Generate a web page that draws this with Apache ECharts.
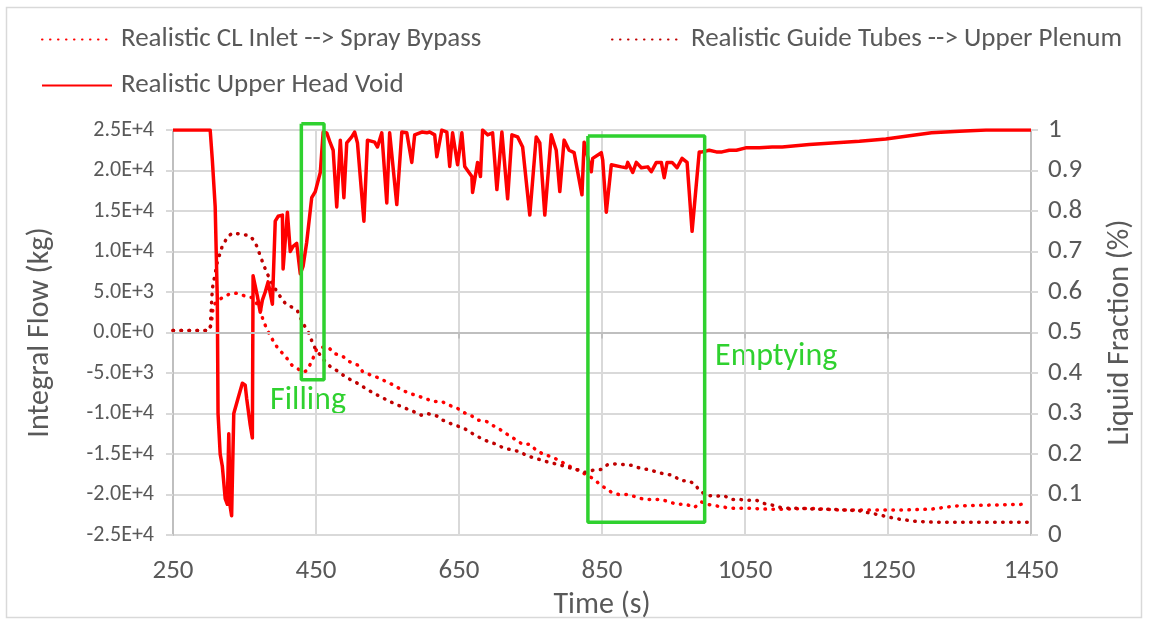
<!DOCTYPE html>
<html>
<head>
<meta charset="utf-8">
<script src="https://cdn.jsdelivr.net/npm/echarts@6/dist/echarts.min.js"></script>
<style>
  html, body { margin: 0; padding: 0; background: #ffffff; }
  #chart { width: 1149px; height: 625px; }
</style>
</head>
<body>
<div id="chart"></div>
<script>
// Series names
const nameBypass = 'Realistic CL Inlet --> Spray Bypass';
const nameGuide = 'Realistic Guide Tubes --> Upper Plenum';
const nameVoid = 'Realistic Upper Head Void';

// Integral flow, CL inlet to spray bypass: [time (s), kg]
const bypassFlow = [
  [250,250],[300,250],[302,500],[305,2000],[306,3300],[312,3900],[319,4300],[330,4800],[340,4850],
  [351,4500],[361,4300],[367,3600],[372,2900],[376,1500],[383,100],[390,-1000],[397,-2000],
  [407,-2900],[416,-4000],[425,-4500],[432,-4900],[437,-4700],[444,-3600],[451,-2000],[458,-1800],
  [467,-1800],[476,-2600],[487,-2900],[497,-3600],[508,-4000],[515,-4800],[528,-5300],[538,-5600],
  [549,-6100],[559,-6500],[570,-7100],[581,-7500],[591,-7800],[602,-8100],[613,-8500],[626,-8500],
  [634,-8900],[647,-9300],[655,-9800],[668,-10300],[676,-10800],[689,-11000],[698,-11500],
  [710,-12100],[718,-12600],[729,-13200],[739,-13800],[749,-13800],[759,-14600],[770,-15100],
  [779,-15300],[790,-15800],[800,-16300],[812,-16800],[823,-17300],[835,-17900],[844,-18500],
  [853,-19100],[863,-19700],[874,-20000],[887,-20000],[898,-20300],[909,-20600],[920,-20600],
  [933,-20600],[944,-20900],[955,-21200],[968,-21200],[979,-21600],[989,-20900],[997,-21200],
  [1010,-21400],[1024,-21600],[1035,-21700],[1059,-21700],[1081,-21800],[1105,-21800],[1140,-21700],
  [1182,-21900],[1226,-21900],[1272,-21900],[1310,-21800],[1345,-21400],[1391,-21300],[1440,-21200]
];

// Integral flow, guide tubes to upper plenum: [time (s), kg]
const guideFlow = [
  [250,250],[300,250],[302,500],[305,5400],[312,8700],[319,10700],[327,11900],[334,12300],[347,12100],
  [356,12000],[362,11500],[367,10700],[374,9000],[381,7400],[389,6000],[397,4800],[407,3600],
  [415,3200],[424,2700],[432,1100],[439,100],[444,-1000],[449,-2000],[456,-2800],[462,-3500],
  [470,-4200],[481,-4800],[490,-5400],[500,-5900],[511,-6400],[521,-7000],[531,-7500],[542,-8000],
  [553,-8500],[563,-8900],[574,-9300],[585,-9700],[597,-10200],[606,-10000],[619,-10300],
  [627,-10800],[640,-11300],[650,-11600],[661,-12000],[671,-12600],[682,-13100],[692,-13500],
  [703,-13800],[711,-14200],[724,-14500],[735,-14700],[745,-15200],[760,-15600],[775,-16000],
  [790,-16300],[805,-16700],[819,-17000],[828,-17300],[837,-17000],[849,-16900],[858,-16300],
  [870,-16200],[881,-16300],[892,-16400],[905,-16800],[915,-16900],[926,-17200],[939,-17500],
  [948,-17600],[961,-18300],[971,-18300],[980,-18700],[986,-19500],[997,-20100],[1010,-20200],
  [1020,-20100],[1031,-20600],[1042,-20600],[1053,-20700],[1066,-20700],[1077,-21100],[1088,-21300],
  [1100,-21600],[1112,-21700],[1130,-21700],[1150,-21800],[1170,-21800],[1190,-21900],[1210,-22000],
  [1237,-22500],[1263,-23000],[1289,-23300],[1311,-23400],[1340,-23400],[1370,-23400],[1400,-23400],
  [1450,-23400]
];

// Upper head liquid fraction: [time (s), fraction]
const headVoid = [
  [250,1],[302,1],[305,0.926],[309,0.81],[312,0.58],[313,0.3],[316,0.2],[319,0.17],[323,0.09],
  [326,0.076],[328,0.25],[330,0.07],[332,0.048],[335,0.3],[341,0.338],[347,0.375],[351,0.37],
  [353,0.338],[358,0.272],[361,0.24],[362,0.64],[368,0.59],[372,0.55],[375,0.58],[379,0.6],
  [383,0.625],[389,0.57],[393,0.775],[397,0.787],[403,0.79],[404,0.657],[410,0.797],[414,0.7],
  [418,0.713],[423,0.72],[428,0.645],[432,0.664],[437,0.723],[444,0.833],[449,0.848],[456,0.895],
  [460,0.995],[465,0.993],[470,0.968],[474,0.95],[479,0.81],[484,0.975],[489,0.833],[493,0.968],
  [500,0.983],[504,0.995],[508,0.968],[517,0.775],[522,0.975],[532,0.97],[536,0.958],[542,0.993],
  [549,0.82],[553,0.993],[563,0.816],[570,0.995],[577,0.993],[584,0.92],[588,0.988],[598,0.995],
  [605,0.993],[609,0.995],[616,0.988],[619,0.934],[626,1.0],[633,0.995],[637,0.91],[641,0.993],
  [648,0.914],[654,0.993],[658,0.91],[668,0.885],[669,0.846],[676,0.92],[680,0.885],[683,1.0],
  [690,0.988],[697,0.993],[703,0.853],[710,0.995],[718,0.83],[724,0.988],[732,0.983],[739,0.958],
  [749,0.79],[758,0.983],[763,0.968],[770,0.79],[779,0.988],[786,0.95],[791,0.848],[797,0.975],
  [804,0.95],[811,0.944],[822,0.84],[825,0.97],[835,0.897],[837,0.93],[849,0.944],[851,0.926],
  [856,0.797],[863,0.914],[877,0.909],[884,0.907],[886,0.92],[893,0.895],[898,0.92],[905,0.907],
  [914,0.909],[919,0.897],[926,0.92],[933,0.92],[937,0.882],[941,0.92],[948,0.92],[955,0.907],
  [962,0.93],[969,0.92],[976,0.75],[986,0.946],[990,0.946],[1000,0.95],[1010,0.946],[1018,0.946],
  [1028,0.95],[1038,0.95],[1051,0.956],[1070,0.956],[1088,0.958],[1102,0.958],[1140,0.964],
  [1172,0.968],[1210,0.972],[1247,0.978],[1280,0.986],[1311,0.993],[1350,0.997],[1387,1.0],[1450,1.0]
];

// Highlighted phases: [time start, time end], [flow bottom, flow top]
const fillingTime = [429.5, 461.2];
const fillingFlow = [-5840, 25770];
const emptyingTime = [830.3, 993.6];
const emptyingFlow = [-23400, 24265];

// Tick labels
const timeTickLabels = ['250','450','650','850','1050','1250','1450'];
const flowTickLabels = ['-2.5E+4','-2.0E+4','-1.5E+4','-1.0E+4','-5.0E+3','0.0E+0',
                        '5.0E+3','1.0E+4','1.5E+4','2.0E+4','2.5E+4'];
const fractionTickLabels = ['0','0.1','0.2','0.3','0.4','0.5','0.6','0.7','0.8','0.9','1'];

const FONT = 'Carlito, Lato, sans-serif';
const FS = 27;
const TEXT = '#595959';
const GRID = '#d9d9d9';
const AXIS = '#bfbfbf';
const GREEN = '#2fd12f';

function boxPath(t, f) {
  return [[t[0], f[1]], [t[1], f[1]], [t[1], f[0]], [t[0], f[0]], [t[0], f[1]]];
}

const chart = echarts.init(document.getElementById('chart'), null, { renderer: 'canvas' });

const legendBase = {
  itemWidth: 70, itemHeight: 14, itemGap: 0,
  itemStyle: { opacity: 0 },
  textStyle: { fontSize: FS, color: TEXT, fontFamily: FONT, padding: [0, 0, 0, 4] }
};
const labelStyle = { fontSize: FS, color: TEXT, fontFamily: FONT };
const titleStyle = { fontSize: 30, color: TEXT, fontFamily: FONT };

chart.setOption({
  animation: false,
  backgroundColor: '#ffffff',
  textStyle: { fontFamily: FONT },
  grid: { left: 173, right: 118, top: 130, bottom: 87 },
  legend: [
    Object.assign({ data: [nameBypass], left: 36, top: 21 }, legendBase),
    Object.assign({ data: [nameGuide], left: 606, top: 21 }, legendBase),
    Object.assign({ data: [nameVoid], left: 36, top: 67 }, legendBase)
  ],
  xAxis: {
    type: 'value', min: 250, max: 1450, interval: 200,
    name: 'Time (s)', nameLocation: 'middle', nameGap: 51,
    nameTextStyle: titleStyle,
    axisLine: { show: true, lineStyle: { color: AXIS, width: 2 } },
    axisTick: { show: true, length: 6, lineStyle: { color: AXIS, width: 2 } },
    axisLabel: Object.assign({ margin: 23, formatter: v => timeTickLabels[Math.round((v - 250) / 200)] }, labelStyle),
    splitLine: { show: true, lineStyle: { color: GRID, width: 2 } }
  },
  yAxis: [
    {
      type: 'value', position: 'left', min: -25000, max: 25000, interval: 5000,
      name: 'Integral Flow (kg)', nameLocation: 'middle', nameGap: 118, nameRotate: 90,
      nameTextStyle: titleStyle,
      axisLine: { show: true, lineStyle: { color: AXIS, width: 2 } },
      axisTick: { show: true, length: 7, lineStyle: { color: GRID, width: 2 } },
      axisLabel: {
        fontSize: 22, color: TEXT, fontFamily: FONT, margin: 19,
        formatter: v => flowTickLabels[Math.round((v + 25000) / 5000)]
      },
      splitLine: { show: true, lineStyle: { color: GRID, width: 2 } }
    },
    {
      type: 'value', position: 'right', min: 0, max: 1, interval: 0.1,
      name: 'Liquid Fraction (%)', nameLocation: 'middle', nameGap: 74, nameRotate: 90,
      nameTextStyle: titleStyle,
      axisLine: { show: true, lineStyle: { color: AXIS, width: 2 } },
      axisTick: { show: true, length: 7, lineStyle: { color: GRID, width: 2 } },
      axisLabel: Object.assign({ margin: 17, formatter: v => fractionTickLabels[Math.round(v * 10)] }, labelStyle),
      splitLine: { show: false }
    }
  ],
  series: [
    {
      name: nameBypass, type: 'line', yAxisIndex: 0, data: bypassFlow,
      symbol: 'none', z: 3,
      itemStyle: { color: '#ff0000' },
      lineStyle: { color: '#ff0000', width: 3.5, type: [0.5, 7.5], cap: 'round' },
      markLine: {
        silent: true, symbol: 'none', label: { show: false },
        lineStyle: { color: AXIS, width: 2, type: 'solid' },
        data: [{ yAxis: 0 }]
      }
    },
    {
      name: nameGuide, type: 'line', yAxisIndex: 0, data: guideFlow,
      symbol: 'none', z: 3,
      itemStyle: { color: '#c00000' },
      lineStyle: { color: '#c00000', width: 3.5, type: [0.5, 7.5], cap: 'round' }
    },
    {
      name: nameVoid, type: 'line', yAxisIndex: 1, data: headVoid,
      symbol: 'none', z: 4,
      itemStyle: { color: '#ff0000' },
      lineStyle: { color: '#ff0000', width: 3.5, join: 'round' }
    },
    {
      name: 'Filling', type: 'line', yAxisIndex: 0, data: boxPath(fillingTime, fillingFlow),
      symbol: 'none', clip: false, silent: true, z: 5,
      lineStyle: { color: GREEN, width: 3.5 }
    },
    {
      name: 'Emptying', type: 'line', yAxisIndex: 0, data: boxPath(emptyingTime, emptyingFlow),
      symbol: 'none', clip: false, silent: true, z: 5,
      lineStyle: { color: GREEN, width: 3.5 }
    }
  ],
  graphic: [
    {
      type: 'rect', silent: true, z: -10,
      shape: { x: 6.5, y: 7.5, width: 1135, height: 610 },
      style: { fill: 'none', stroke: GRID, lineWidth: 1.5 }
    },
    {
      type: 'text', left: 270, top: 385,
      style: { text: 'Filling', fill: GREEN, fontSize: 32, fontFamily: FONT }
    },
    {
      type: 'text', left: 715, top: 341,
      style: { text: 'Emptying', fill: GREEN, fontSize: 32, fontFamily: FONT }
    }
  ]
});
</script>
</body>
</html>
